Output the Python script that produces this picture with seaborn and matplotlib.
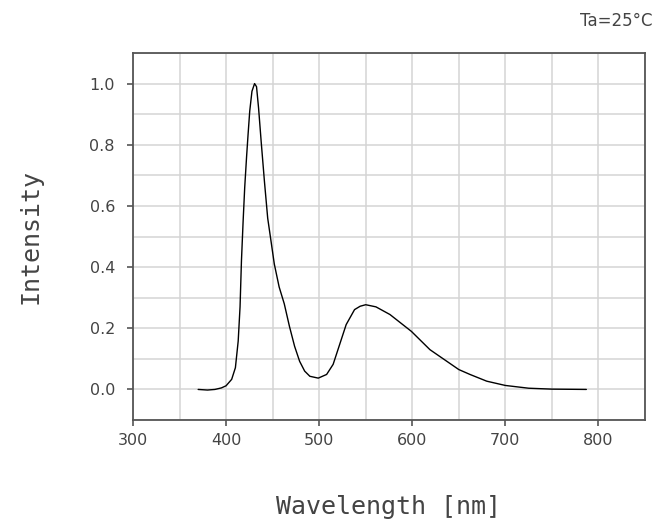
import matplotlib
matplotlib.use("Agg")
import matplotlib.pyplot as plt
import seaborn as sns
from matplotlib.ticker import MultipleLocator

# Spectrum
wavelength = [370, 380, 388, 395, 400, 406, 410, 413, 415, 416.5, 418.3, 420,
              422, 423.6, 425.4, 427.8, 430.6, 432.7, 434.9, 437.7, 441.2,
              444.7, 448.5, 451.8, 457, 462.5, 468, 473.6, 479, 484.4, 490,
              499, 508, 515, 522, 529, 538, 544, 550, 561, 576, 599, 619, 650,
              662, 680, 700, 725, 750, 787]
intensity = [0.0, -0.002, 0.0, 0.005, 0.012, 0.033, 0.071, 0.158, 0.27, 0.42,
             0.55, 0.66, 0.76, 0.833, 0.91, 0.975, 1.0, 0.99, 0.92, 0.81,
             0.68, 0.56, 0.48, 0.41, 0.335, 0.28, 0.207, 0.141, 0.092, 0.06,
             0.043, 0.037, 0.049, 0.082, 0.147, 0.212, 0.261, 0.272, 0.277,
             0.27, 0.245, 0.19, 0.13, 0.065, 0.049, 0.027, 0.013, 0.004,
             0.001, 0.0]

x_ticks = [300, 400, 500, 600, 700, 800]
y_ticks = [0.0, 0.2, 0.4, 0.6, 0.8, 1.0]

TEXT = "#444444"
SPINE = "#555555"
GRID = "#d4d4d4"

sns.set_theme(style="whitegrid")
plt.rcParams['font.family'] = ['DejaVu Sans']

fig = plt.figure(figsize=(6.69, 5.27), dpi=100)
ax = fig.add_axes([0.1988, 0.203, 0.7653, 0.6964])

sns.lineplot(x=wavelength, y=intensity, color="black", linewidth=1.0, ax=ax)

ax.set_xlim(300, 850)
ax.set_ylim(-0.1, 1.1)
ax.set_xticks(x_ticks)
ax.set_yticks(y_ticks)
ax.set_xticklabels([str(t) for t in x_ticks])
ax.set_yticklabels([f"{t:.1f}" for t in y_ticks])
ax.xaxis.set_minor_locator(MultipleLocator(50))
ax.yaxis.set_minor_locator(MultipleLocator(0.1))

ax.grid(True, which="both", color=GRID, linewidth=1.1)
ax.set_axisbelow(True)
for s in ax.spines.values():
    s.set_color(SPINE)
    s.set_linewidth(1.3)
    s.set_visible(True)

ax.tick_params(axis="both", which="both", direction="out", length=4, width=1.2,
               color=SPINE, labelcolor=TEXT, labelsize=11.5)
ax.tick_params(axis="y", pad=9)
ax.tick_params(axis="x", pad=5)
ax.tick_params(left=True, bottom=True, top=False, right=False)

ax.set_xlabel("Wavelength [nm]", family="DejaVu Sans Mono", fontsize=18,
              color=TEXT, labelpad=34)
ax.set_ylabel("Intensity", family="DejaVu Sans Mono", fontsize=18,
              color=TEXT, labelpad=34)

fig.text(0.976, 0.96, "Ta=25°C", ha="right", va="center", fontsize=12,
         color=TEXT)

fig.savefig("out.png", dpi=100)
